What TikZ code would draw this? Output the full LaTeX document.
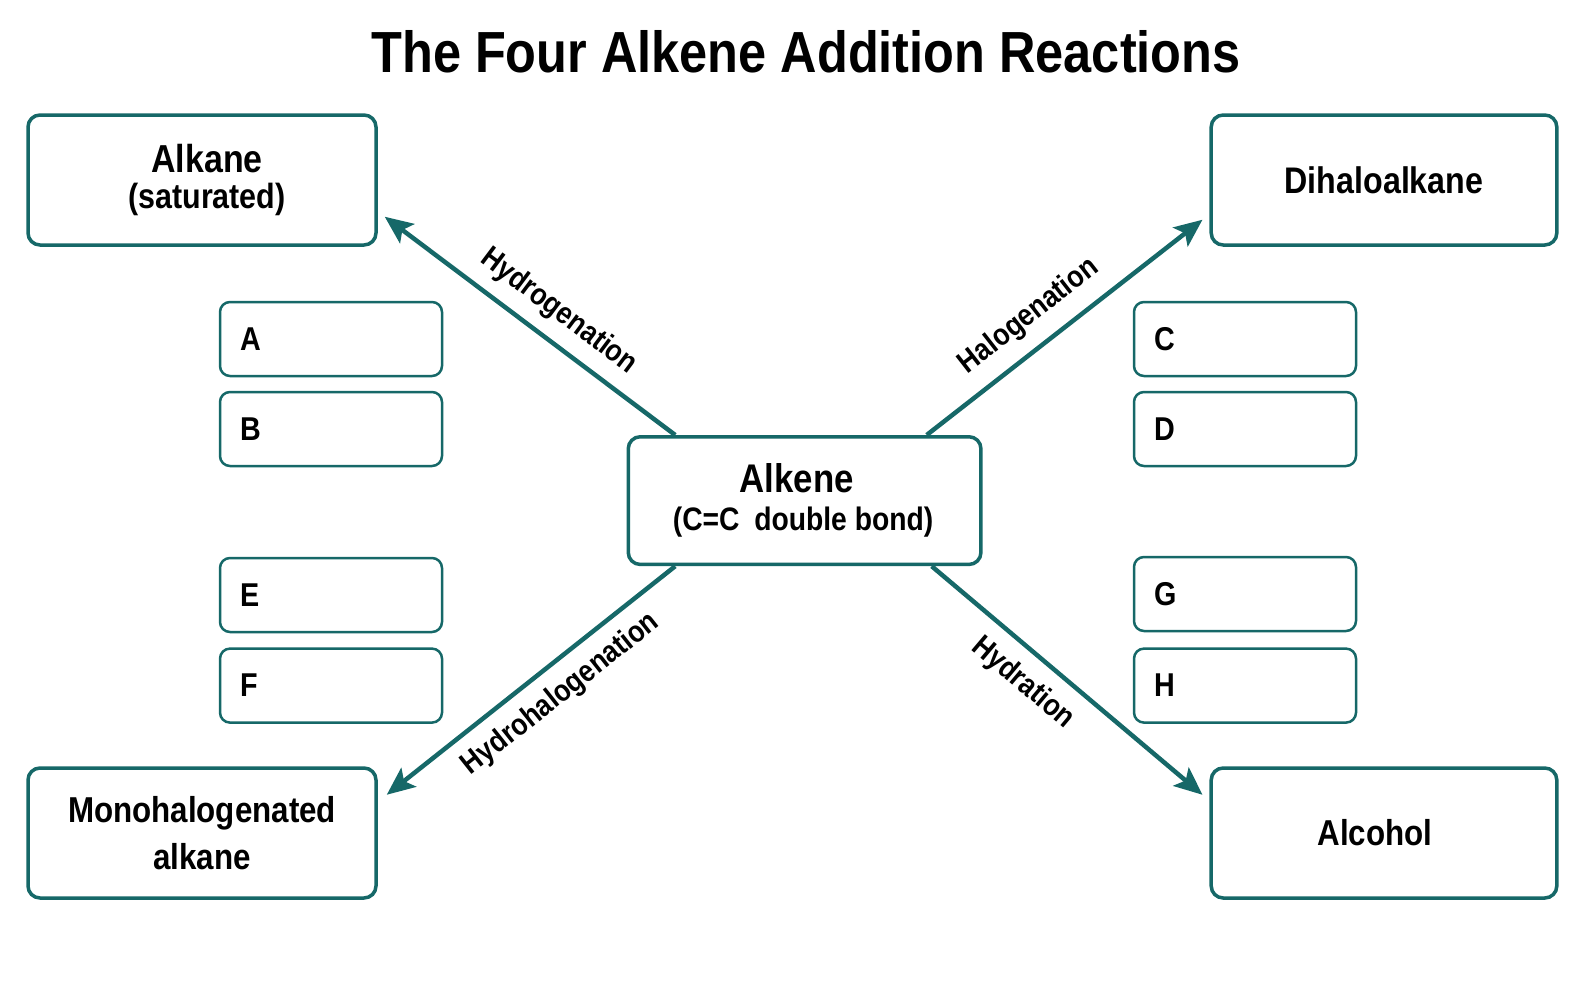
\documentclass[tikz,border=0pt]{standalone}
\usepackage{fontspec}
\setmainfont{Liberation Sans}[FakeStretch=0.87]
\usetikzlibrary{arrows.meta,calc}
\definecolor{tealc}{RGB}{22,104,104}
\begin{document}
\begin{tikzpicture}[x=1pt,y=-1pt,
  bigbox/.style={draw=tealc, line width=3.5pt, rounded corners=12pt, fill=white,
    minimum width=348pt, minimum height=130pt, align=center, inner sep=0pt},
  smallbox/.style={draw=tealc, line width=2.5pt, rounded corners=10pt, fill=white,
    minimum height=74pt, text width=182pt, inner xsep=20pt, inner ysep=0pt, align=left,
    font=\bfseries\fontsize{33}{40}\selectfont},
  arr/.style={draw=tealc, line width=4.5pt, -{Stealth[length=28pt,width=24pt,inset=6pt]}},
  lbl/.style={font=\bfseries\fontsize{30.5}{32}\selectfont, sloped, inner sep=4pt}
]
\useasboundingbox (0,0) rectangle (1589,990);
\fill[white] (0,0) rectangle (1589,990);

\node[font=\bfseries\fontsize{58}{60}\selectfont, anchor=base] (title) at (806,73) {The Four Alkene Addition Reactions};

\node[bigbox, font=\bfseries\fontsize{39}{36}\selectfont] (alkane) at (202,180)
  {\hspace*{10pt}Alkane\\\hspace*{10pt}{\fontsize{35}{36}\selectfont (saturated)}};
\node[bigbox, font=\bfseries\fontsize{37}{44}\selectfont, minimum width=345.6pt] (dihalo) at (1384,180) {Dihaloalkane};
\node[bigbox, font=\bfseries\fontsize{36}{47.6}\selectfont] (mono) at (202,833) {Monohalogenated\\alkane};
\node[bigbox, font=\bfseries\fontsize{36}{44}\selectfont, minimum width=345.6pt] (alcohol) at (1384,833) {Alcohol\hspace{18pt}};
\node[bigbox, font=\bfseries\fontsize{40}{38}\selectfont, minimum width=352.7pt, minimum height=127.7pt] (alkene) at (804.6,500.6)
  {Alkene\hspace*{16pt}\\{\fontsize{32.5}{38}\selectfont (C{=}C\hspace{0.45em}double bond)}\hspace*{3pt}};

\node[smallbox] (A) at (331,339) {A};
\node[smallbox] (B) at (331,429) {B};
\node[smallbox] (E) at (331,595) {E};
\node[smallbox] (F) at (331,685.6) {F};
\node[smallbox] (C) at (1245,339) {C};
\node[smallbox] (D) at (1245,429) {D};
\node[smallbox] (G) at (1245,594) {G};
\node[smallbox] (H) at (1245,685.6) {H};

\draw[arr] ([xshift=48.7pt]alkene.north west) -- node[lbl, above=8pt, pos=0.46] {Hydrogenation} ([xshift=7pt,yshift=30pt]alkane.south east);
\draw[arr] ([xshift=-56pt]alkene.north east) -- node[lbl, above=10pt, pos=0.44] {Halogenation} ([xshift=-7pt,yshift=27pt]dihalo.south west);
\draw[arr] ([xshift=48.7pt]alkene.south west) -- node[lbl, below=9pt, pos=0.46] {Hydrohalogenation} ([xshift=9pt,yshift=-28.5pt]mono.north east);
\draw[arr] ([xshift=-51pt]alkene.south east) -- node[lbl, below=10pt, pos=0.41] {Hydration} ([xshift=-7pt,yshift=-28.5pt]alcohol.north west);
\end{tikzpicture}
\end{document}
